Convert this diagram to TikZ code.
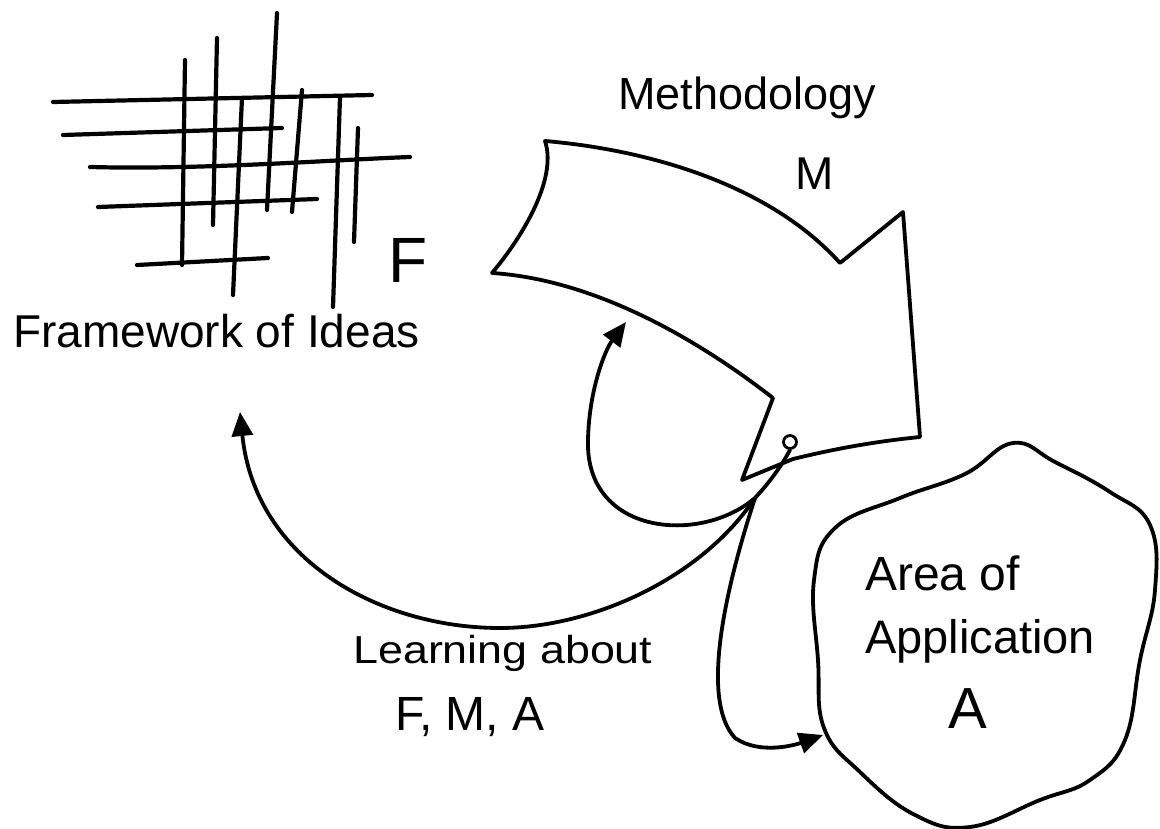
\documentclass[tikz,border=0pt]{standalone}
\usepackage{fontspec}
\setmainfont{Liberation Sans}
\usetikzlibrary{arrows.meta}
\newcommand{\fs}[1]{\fontsize{#1}{#1}\selectfont}
\begin{document}
\begin{tikzpicture}[x=1pt,y=-1pt,line join=round,line cap=round,
  ink/.style={line width=3.8pt},
  gridline/.style={line width=4.2pt},
  lbl/.style={inner sep=0pt,anchor=base west},
  tipped/.style={ink,-{Triangle[length=24pt,width=21pt]}}]
\useasboundingbox[fill=white] (0,0) rectangle (1160,829);

% Framework grid
\draw[gridline] (53,102) -- (372,95);
\draw[gridline] (63,135) -- (282,128);
\draw[gridline] (90,167) .. controls (200,170) and (330,160) .. (410,157);
\draw[gridline] (98,207) -- (317,199);
\draw[gridline] (137,265) -- (268,258);
\draw[gridline] (185,60) -- (182,265);
\draw[gridline] (217,38) -- (213,225);
\draw[gridline] (242,98) -- (233,295);
\draw[gridline] (277,13) -- (267,210);
\draw[gridline] (302,90) -- (292,212);
\draw[gridline] (340,97) -- (333,307);
\draw[gridline] (358,128) -- (354,242);

% Methodology arrow
\draw[ink] (545,141) .. controls (650,150) and (770,185) .. (840,263)
  -- (903,212) -- (920,437)
  .. controls (870,442) and (830,450) .. (793,459)
  -- (742,480) -- (773,398)
  .. controls (705,345) and (600,280) .. (492,273)
  .. controls (520,240) and (558,180) .. cycle;

% Area of application blob
\draw[ink] plot[smooth cycle,tension=0.7] coordinates {
  (814,580) (835,528) (900,498) (965,474) (1013,443) (1055,462)
  (1110,492) (1150,525) (1155,590) (1140,660) (1125,740) (1090,780)
  (1040,800) (970,827) (915,815) (860,772) (824,728) (818,660)};

% labels
\node[lbl] (fw) at (13,347) {\fs{46}Framework of Ideas};
\node[lbl] (fF) at (388,283) {\fs{64}F};
\node[lbl] (meth) at (618,110) {\fs{45}Methodology};
\node[lbl] (mM) at (795,190) {\fs{46}M};
\node[lbl] (learn) at (353,663) {\scalebox{1.15}[1]{\fs{39}Learning about}};
\node[lbl] (fma) at (395,730) {\fs{48}F, M, A};
\node[lbl] (area) at (865,590) {\fs{48}Area of};
\node[lbl] (appl) at (865,653) {\fs{47}Application};
\node[inner sep=0pt,anchor=base] (aA) at (968,728) {\fs{58}A};

% hub and connectors
\node[circle,draw,line width=2.8pt,minimum size=13pt,inner sep=0pt] (hub) at (790,442) {};
\coordinate (J) at (755,498);
\coordinate (tM) at (626,322);
\coordinate (tF) at (240,412);
\coordinate (tA) at (823,735);
\draw[ink] (hub.south) .. controls (782,465) and (770,482) .. (J);
\draw[tipped] (J) .. controls (700,545) and (585,535) .. (588,440)
  .. controls (589,390) and (605,350) .. (tM);
\draw[tipped] (J) .. controls (700,580) and (590,628) .. (500,628)
  .. controls (380,628) and (255,560) .. (tF);
\draw[tipped] (J) .. controls (725,590) and (700,700) .. (735,738)
  .. controls (760,755) and (795,745) .. (tA);
\end{tikzpicture}
\end{document}
